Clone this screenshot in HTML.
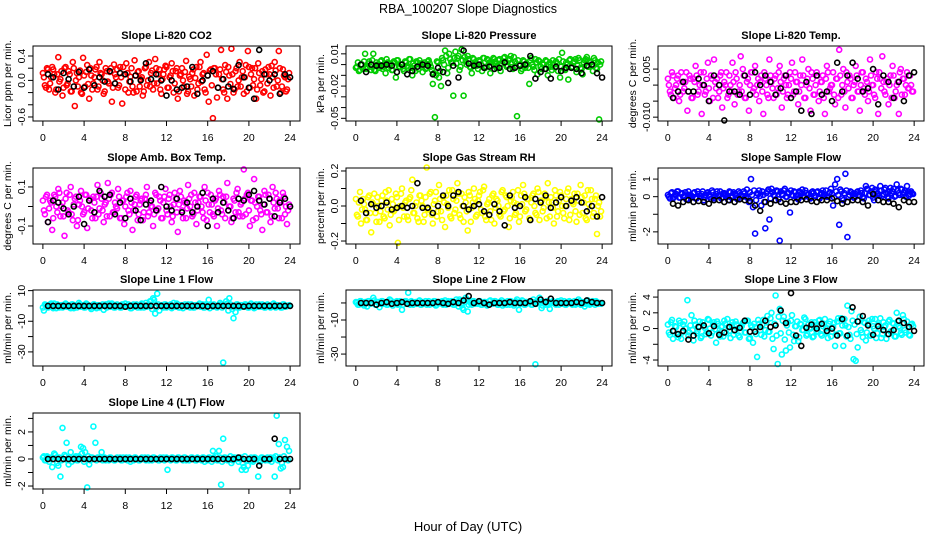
<!DOCTYPE html>
<html><head><meta charset="utf-8">
<style>
html,body{margin:0;padding:0;background:#fff;}
svg{display:block;font-family:"Liberation Sans",Arial,sans-serif;}
</style></head>
<body>
<svg id="chart" width="936" height="540" viewBox="0 0 936 540" xmlns="http://www.w3.org/2000/svg">
<text x="468" y="13" text-anchor="middle" font-size="12.5">RBA_100207  Slope Diagnostics</text>
<text x="468" y="531" text-anchor="middle" font-size="13">Hour of Day (UTC)</text>
</svg>
<script>
const HOURS=[0.1,0.3,0.5,0.7,0.9,1.1,1.3,1.5,1.7,1.9,2.1,2.3,2.5,2.7,2.9,3.1,3.3,3.5,3.7,3.9,4.1,4.3,4.5,4.7,4.9,5.1,5.3,5.5,5.7,5.9,6.1,6.3,6.5,6.7,6.9,7.1,7.3,7.5,7.7,7.9,8.1,8.3,8.5,8.7,8.9,9.1,9.3,9.5,9.7,9.9,10.1,10.3,10.5,10.7,10.9,11.1,11.3,11.5,11.7,11.9,12.1,12.3,12.5,12.7,12.9,13.1,13.3,13.5,13.7,13.9,14.1,14.3,14.5,14.7,14.9,15.1,15.3,15.5,15.7,15.9,16.1,16.3,16.5,16.7,16.9,17.1,17.3,17.5,17.7,17.9,18.1,18.3,18.5,18.7,18.9,19.1,19.3,19.5,19.7,19.9,20.1,20.3,20.5,20.7,20.9,21.1,21.3,21.5,21.7,21.9,22.1,22.3,22.5,22.7,22.9,23.1,23.3,23.5,23.7,23.9];
const HOURS2=[0.0,0.2,0.4,0.6,0.8,1.0,1.2,1.4,1.6,1.8,2.0,2.2,2.4,2.6,2.8,3.0,3.2,3.4,3.6,3.8,4.0,4.2,4.4,4.6,4.8,5.0,5.2,5.4,5.6,5.8,6.0,6.2,6.4,6.6,6.8,7.0,7.2,7.4,7.6,7.8,8.0,8.2,8.4,8.6,8.8,9.0,9.2,9.4,9.6,9.8,10.0,10.2,10.4,10.6,10.8,11.0,11.2,11.4,11.6,11.8,12.0,12.2,12.4,12.6,12.8,13.0,13.2,13.4,13.6,13.8,14.0,14.2,14.4,14.6,14.8,15.0,15.2,15.4,15.6,15.8,16.0,16.2,16.4,16.6,16.8,17.0,17.2,17.4,17.6,17.8,18.0,18.2,18.4,18.6,18.8,19.0,19.2,19.4,19.6,19.8,20.0,20.2,20.4,20.6,20.8,21.0,21.2,21.4,21.6,21.8,22.0,22.2,22.4,22.6,22.8,23.0,23.2,23.4,23.6,23.8];
const BLACK_HOURS=[0.5,1,1.5,2,2.5,3,3.5,4,4.5,5,5.5,6,6.5,7,7.5,8,8.5,9,9.5,10,10.5,11,11.5,12,12.5,13,13.5,14,14.5,15,15.5,16,16.5,17,17.5,18,18.5,19,19.5,20,20.5,21,21.5,22,22.5,23,23.5,24];
const X_TICKS=[0,4,8,12,16,20,24];

const CO2=[0.05,-0.12,0.18,-0.05,0.22,0.1,-0.15,0.38,0.02,-0.25,0.2,-0.08,0.15,-0.18,0.3,-0.42,0.12,0.05,-0.2,0.37,-0.1,0.25,-0.3,0.08,-0.05,0.18,-0.15,0.3,0.1,-0.22,0.2,-0.02,0.14,-0.35,0.26,0.05,-0.12,0.22,-0.38,0.1,0.28,-0.2,0.06,-0.1,0.33,-0.18,0.15,0.02,-0.25,0.2,-0.08,0.3,0.12,-0.15,0.35,-0.05,0.18,-0.22,0.1,0.24,-0.12,0.05,0.28,-0.2,0.15,-0.3,0.08,0.2,-0.1,0.32,-0.18,0.02,0.12,-0.25,0.22,-0.05,0.3,0.1,-0.15,0.42,-0.35,0.18,-0.62,0.2,-0.28,0.1,0.5,-0.15,0.25,-0.3,0.08,0.52,-0.2,0.15,-0.1,0.3,0.05,-0.22,0.25,0.48,-0.12,0.2,0.02,-0.3,0.28,-0.08,0.15,-0.18,0.1,0.22,-0.25,0.05,0.3,-0.1,0.48,-0.2,0.18,0.05,-0.15,0.12];
const CO2_B=[0.12,-0.08,0.2,-0.15,0.05,0.18,-0.2,0.1,-0.02,0.15,-0.12,0.22,-0.05,0.1,-0.18,0.2,0.0,-0.1,0.16,-0.22,0.08,0.14,-0.06,0.2,-0.15,0.05,0.22,-0.1,0.12,0.0,-0.18,0.15,-0.05,0.2,-0.12,0.1,0.18,-0.08,0.05,0.22,-0.15,0.12,-0.02,0.2,-0.2,0.08,0.14,-0.1,0.05,-0.18,0.22,0.0,-0.1,0.16,-0.05,0.2,0.1,-0.15,0.02,0.18,0.22,-0.12,0.08,0.15,-0.05,0.2,-0.18,0.1,0.0,0.14,-0.22,0.06,-0.1,0.18,0.04,-0.15,0.22,-0.02,0.12,-0.2,0.08,0.16,-0.08,0.2,0.1,-0.12,0.18,0.02,-0.2,0.14,0.22,-0.06,0.1,-0.15,0.2,0.0,-0.1,0.15,0.05,-0.18,0.22,0.1,-0.08,0.2,-0.15,0.12,0.02,-0.2,0.18,-0.05,0.1,0.24,-0.12,0.16,0.0,0.2,-0.1,0.08,-0.18,0.02];
const CO2_BLACK=[0.1,0.05,-0.15,0.12,0.02,-0.1,0.14,-0.12,0.18,-0.08,0.05,-0.02,0.15,-0.05,0.12,0.1,-0.02,0.08,0.0,0.28,0.02,0.1,0.0,-0.25,0.0,-0.15,-0.12,-0.1,0.22,-0.22,0.0,0.08,0.15,-0.12,0.02,-0.1,-0.14,0.25,0.05,-0.12,-0.3,0.5,0.1,0.0,0.1,-0.22,0.1,0.05];

const PRESSURE=[-0.002,-0.006,0.0,-0.004,0.01,-0.002,0.003,-0.005,0.01,-0.006,0.0,-0.003,0.004,-0.002,-0.008,0.002,-0.001,-0.005,0.003,-0.012,0.004,-0.002,0.0,-0.006,0.002,-0.003,0.005,-0.01,-0.001,0.003,-0.004,0.001,-0.007,0.002,-0.003,0.004,-0.002,-0.018,-0.049,0.003,-0.012,-0.02,0.004,0.013,-0.008,0.01,0.002,-0.029,0.012,0.006,-0.005,0.014,-0.029,0.003,0.008,-0.002,-0.008,0.005,0.0,-0.004,0.003,-0.006,0.006,-0.002,0.004,-0.008,0.002,0.005,-0.003,0.004,-0.006,0.003,0.007,-0.002,0.004,0.008,-0.004,0.003,-0.048,0.0,-0.006,0.004,-0.003,0.0,-0.018,0.006,-0.002,0.005,-0.009,0.003,-0.004,0.0,0.004,-0.01,0.002,-0.005,0.0,0.003,-0.006,-0.012,0.011,-0.004,0.002,-0.014,0.005,-0.002,0.003,-0.007,0.006,-0.003,-0.009,0.004,0.007,-0.002,0.002,-0.006,0.004,-0.004,-0.051,0.003];
const PRESSURE_B=[-0.003,0.002,-0.005,0.0,0.003,-0.004,0.001,-0.002,0.004,-0.005,0.002,-0.001,0.003,-0.004,0.0,0.005,-0.003,0.001,-0.005,0.002,0.004,-0.002,0.0,-0.004,0.003,-0.001,0.005,-0.003,0.001,-0.006,0.002,0.004,-0.002,0.0,-0.004,0.003,0.001,-0.005,-0.008,-0.01,0.002,-0.006,0.006,0.0,0.008,-0.003,0.005,0.002,0.006,0.001,0.008,-0.002,0.004,0.007,0.0,0.005,-0.003,0.006,0.002,-0.001,0.004,0.0,0.006,-0.003,0.005,0.002,-0.001,0.006,0.003,-0.002,0.005,0.001,0.006,0.003,-0.001,0.005,0.002,0.007,-0.002,0.004,0.0,-0.004,0.003,0.001,-0.003,0.004,0.0,-0.005,0.002,0.004,-0.002,0.001,-0.004,0.003,0.0,-0.002,0.004,-0.003,0.001,0.005,-0.002,0.003,-0.005,0.0,0.004,-0.003,0.002,0.005,-0.001,0.004,-0.004,0.002,0.005,-0.002,0.003,0.0,0.006,-0.003,0.002,0.0];
const PRESSURE_BLACK=[0.0,-0.007,0.0,-0.001,-0.001,0.0,-0.001,-0.007,0.0,-0.009,-0.006,-0.002,0.0,-0.001,-0.009,-0.003,-0.007,-0.017,-0.001,-0.012,0.013,0.001,-0.001,0.0,-0.003,-0.002,-0.004,-0.003,0.002,-0.004,-0.003,-0.001,0.0,0.008,-0.013,-0.007,-0.004,-0.013,-0.002,-0.006,-0.003,-0.003,-0.004,-0.008,-0.001,0.0,-0.008,-0.012];

const TEMP=[0.0,-0.003,0.003,-0.001,0.002,-0.005,0.004,-0.002,0.001,-0.008,0.003,-0.004,0.002,0.006,-0.003,0.0,-0.009,0.004,-0.002,0.007,-0.005,0.002,0.008,-0.001,-0.004,0.003,-0.007,0.001,0.004,-0.003,0.0,0.007,-0.006,0.002,-0.002,0.009,0.005,-0.004,0.001,-0.008,0.004,-0.002,0.006,0.0,-0.005,0.003,-0.009,0.002,-0.003,0.008,0.001,-0.004,0.003,-0.001,0.006,-0.007,0.002,0.0,-0.003,0.004,0.007,-0.002,0.001,-0.006,0.003,0.008,-0.004,0.0,0.005,-0.008,0.002,-0.003,0.004,-0.005,0.001,0.003,-0.009,0.006,-0.002,0.0,0.004,-0.006,0.002,0.011,-0.003,0.005,-0.007,0.001,0.003,-0.004,0.0,0.006,-0.002,-0.008,0.004,-0.001,0.002,-0.005,0.008,0.0,-0.003,0.004,-0.009,0.002,0.009,-0.002,0.001,-0.006,0.003,0.006,-0.004,0.0,-0.009,0.005,0.002,-0.003,0.004,-0.001,0.0,-0.002];
const TEMP_B=[0.002,-0.002,0.004,-0.004,0.0,0.003,-0.003,0.001,-0.001,0.004,-0.002,0.002,-0.004,0.001,0.003,-0.002,0.004,0.0,-0.003,0.002,-0.001,0.003,-0.004,0.001,0.002,-0.002,0.004,-0.001,0.0,-0.004,0.003,-0.002,0.001,0.004,-0.003,0.0,-0.002,0.003,-0.004,0.002,0.0,0.004,-0.001,-0.003,0.002,0.001,-0.002,0.004,0.0,-0.004,0.003,-0.001,0.002,-0.003,0.004,0.001,-0.002,0.003,-0.004,0.0,0.002,-0.003,0.004,0.001,-0.002,0.0,0.003,-0.004,0.002,-0.001,0.004,-0.003,0.0,0.003,-0.002,0.001,-0.004,0.002,0.004,-0.001,0.0,-0.003,0.002,-0.004,0.003,0.0,-0.002,0.004,-0.001,0.002,-0.004,0.001,0.003,-0.002,0.0,0.004,-0.003,0.001,-0.002,0.003,0.0,-0.004,0.002,0.004,-0.001,0.001,-0.003,0.002,0.0,-0.004,0.003,-0.002,0.001,0.004,-0.003,0.002,0.0,-0.001,0.003,-0.002];
const TEMP_BLACK=[-0.004,-0.002,0.001,-0.002,-0.002,0.002,0.0,-0.005,0.003,0.0,-0.011,-0.002,-0.002,-0.003,0.003,-0.003,0.004,0.0,0.003,0.001,-0.003,-0.001,0.003,-0.004,-0.002,-0.008,0.001,-0.009,0.003,-0.003,-0.002,-0.005,0.007,-0.002,0.003,0.007,0.002,-0.002,-0.001,0.005,-0.006,0.003,0.001,-0.004,0.001,-0.005,0.003,0.004];

const AMB=[-0.02,0.05,-0.08,0.03,-0.12,0.06,0.0,0.09,-0.05,0.02,-0.15,0.07,-0.03,0.1,-0.07,0.04,-0.1,0.01,0.08,-0.04,0.06,-0.11,0.03,-0.02,0.05,-0.06,0.11,-0.01,0.04,-0.08,0.02,0.12,-0.05,0.07,-0.03,0.0,0.09,-0.06,0.03,-0.09,0.05,-0.02,0.08,-0.12,0.01,0.06,-0.04,0.03,-0.07,0.04,0.1,-0.03,0.0,-0.1,0.07,-0.02,0.05,-0.06,0.02,0.09,-0.04,0.06,-0.08,0.01,0.04,-0.13,0.08,-0.02,0.03,-0.06,0.11,0.0,-0.05,0.07,-0.09,0.02,0.05,-0.03,0.1,-0.07,0.01,0.06,-0.04,0.03,-0.1,0.08,-0.02,0.05,-0.06,0.12,0.0,-0.08,0.04,-0.03,0.09,-0.05,0.02,0.19,-0.04,0.07,-0.1,0.03,0.14,-0.06,0.05,-0.02,-0.12,0.08,-0.03,0.06,-0.08,0.1,-0.01,0.04,-0.06,0.02,0.07,-0.04,-0.09,0.01];
const AMB_B=[0.03,-0.04,0.06,-0.01,0.02,-0.06,0.05,-0.03,0.07,0.0,-0.05,0.04,-0.02,0.06,-0.04,0.01,0.05,-0.07,0.03,0.0,-0.03,0.06,-0.01,0.04,-0.06,0.02,0.05,-0.04,0.07,-0.02,0.01,-0.05,0.04,0.06,-0.03,0.02,-0.01,0.05,-0.06,0.03,0.0,0.07,-0.04,0.02,-0.02,0.05,-0.07,0.01,0.04,-0.03,0.06,-0.05,0.02,0.0,-0.04,0.06,-0.01,0.03,-0.06,0.05,-0.02,0.04,0.0,-0.05,0.07,-0.03,0.01,0.05,-0.06,0.02,-0.01,0.04,0.06,-0.04,0.02,-0.02,0.05,0.0,-0.06,0.03,0.07,-0.03,0.01,-0.05,0.04,-0.01,0.06,-0.04,0.02,0.05,-0.02,0.0,-0.06,0.03,0.07,-0.03,0.01,-0.05,0.04,0.06,-0.02,0.03,-0.07,0.02,0.0,0.05,-0.04,0.01,0.06,-0.03,0.04,-0.05,0.02,0.07,-0.01,0.03,-0.06,0.05,0.0,-0.02];
const AMB_BLACK=[-0.08,0.03,0.02,-0.01,-0.04,0.0,0.05,-0.09,0.03,-0.03,0.08,0.05,0.06,-0.04,0.02,-0.06,0.04,-0.02,-0.07,0.01,0.03,-0.02,0.1,0.0,-0.02,0.04,-0.03,0.02,-0.03,0.0,0.07,-0.1,0.04,-0.03,0.02,-0.02,-0.06,0.04,0.03,0.06,0.08,0.03,0.01,0.04,-0.05,0.02,0.04,0.0];

const RH=[-0.05,0.02,-0.1,0.04,-0.02,-0.08,0.06,-0.15,0.01,-0.04,0.05,-0.09,0.03,-0.06,0.08,-0.02,-0.11,0.04,-0.03,0.07,-0.21,0.0,0.1,-0.06,0.03,-0.08,0.05,0.15,-0.04,0.02,-0.09,0.06,0.0,-0.05,0.22,-0.02,0.08,-0.1,0.03,-0.06,0.12,-0.03,0.05,-0.12,0.01,0.09,-0.07,0.04,-0.02,0.13,-0.05,0.07,-0.09,0.02,-0.14,0.06,-0.01,0.1,-0.06,0.03,0.08,-0.04,0.11,-0.08,0.02,-0.03,0.06,-0.1,0.04,0.0,-0.06,0.09,-0.02,0.05,-0.12,0.03,0.08,-0.05,0.01,-0.09,0.06,0.12,-0.03,0.04,-0.07,0.02,0.07,-0.04,0.1,-0.08,0.03,-0.01,0.05,0.13,-0.06,0.02,-0.1,0.06,-0.03,0.08,0.0,-0.07,0.04,0.1,-0.05,0.02,0.07,-0.09,0.03,0.12,-0.04,0.06,-0.08,0.01,0.09,-0.06,0.04,-0.16,0.02,-0.03];
const RH_B=[0.04,-0.06,0.08,-0.02,0.01,-0.08,0.05,-0.04,0.02,0.07,-0.09,0.0,-0.03,0.06,-0.07,0.03,0.09,-0.05,0.01,-0.02,0.05,-0.08,0.07,-0.01,0.02,-0.06,0.04,0.09,-0.04,0.0,-0.07,0.06,0.03,-0.09,0.05,-0.02,0.07,-0.05,0.01,0.08,-0.03,0.04,-0.08,0.02,0.06,-0.01,-0.06,0.09,-0.04,0.03,0.07,-0.07,0.0,0.05,-0.03,0.08,-0.09,0.02,0.04,-0.05,0.06,-0.02,0.09,-0.06,0.01,0.04,-0.08,0.07,-0.01,0.03,-0.05,0.08,-0.03,0.06,0.0,-0.07,0.05,0.02,-0.04,0.09,-0.06,0.01,0.07,-0.02,0.04,-0.08,0.06,0.0,-0.05,0.08,0.03,-0.03,0.07,-0.07,0.02,0.05,-0.01,0.09,-0.06,0.03,0.06,-0.04,0.0,0.08,-0.08,0.04,0.01,-0.03,0.07,-0.05,0.05,0.02,-0.07,0.09,-0.02,0.04,-0.04,0.06,0.0,-0.06];
const RH_BLACK=[0.03,-0.04,0.01,-0.01,0.0,0.02,-0.02,-0.01,0.0,-0.01,0.0,0.13,-0.01,-0.01,-0.04,0.0,0.06,0.0,0.06,0.08,0.0,-0.02,0.0,0.01,-0.03,-0.05,0.01,-0.03,-0.11,0.06,-0.01,0.0,0.05,-0.08,0.04,0.02,0.06,-0.01,0.02,0.05,0.0,0.03,0.05,0.02,-0.03,0.0,-0.06,0.05];

const SAMPLE=[0.0,0.2,-0.1,0.1,0.3,-0.05,0.15,0.0,0.25,-0.15,0.1,0.05,0.2,-0.1,0.3,0.05,0.15,-0.2,0.1,0.25,0.0,0.35,-0.1,0.15,0.05,0.3,-0.05,0.2,0.1,-0.2,0.25,0.05,0.15,-0.1,0.3,0.1,0.0,0.2,0.4,-0.3,1.0,-0.6,-2.1,0.2,0.35,-0.5,0.1,-1.8,0.3,-1.3,0.45,0.1,-0.2,0.3,-2.5,0.15,0.35,0.0,0.2,-0.9,0.1,0.3,0.05,-0.15,0.25,0.4,0.0,0.2,0.1,-0.1,0.3,0.05,0.25,-0.05,0.15,0.35,0.1,0.0,0.2,0.45,-0.5,0.7,1.0,-1.6,0.3,-0.2,1.3,-2.3,0.1,0.25,-0.05,0.15,0.3,0.05,0.2,-0.1,0.6,0.4,0.1,0.5,-0.2,0.3,0.15,0.6,0.05,0.4,0.2,-0.1,0.5,0.3,0.0,0.7,0.2,0.45,0.1,0.35,0.6,0.05,0.3,0.15];
const SAMPLE_B=[0.1,-0.1,0.25,0.0,0.15,0.3,-0.05,0.2,0.05,-0.15,0.3,0.1,0.0,0.25,-0.1,0.15,0.05,0.3,-0.05,0.2,0.1,-0.12,0.25,0.0,0.3,0.05,-0.1,0.2,0.15,0.0,0.3,-0.05,0.25,0.1,-0.15,0.2,0.05,0.3,0.0,-0.1,0.25,0.1,0.35,-0.2,0.15,0.05,0.3,-0.3,0.2,0.4,-0.1,0.25,0.05,0.35,-0.15,0.3,0.1,0.45,0.0,0.2,0.35,0.05,0.25,-0.1,0.3,0.15,0.0,0.35,0.1,-0.05,0.25,0.2,0.05,0.3,-0.1,0.2,0.1,0.35,0.0,0.25,0.15,-0.05,0.3,0.1,0.4,-0.1,0.2,0.35,0.0,0.3,0.15,-0.05,0.25,0.1,0.35,0.0,0.2,0.45,0.1,0.3,-0.05,0.4,0.2,0.05,0.35,0.15,0.5,0.0,0.3,0.2,0.45,0.05,0.35,0.1,0.4,0.25,0.0,0.3,0.15,0.2];
const SAMPLE_BLACK=[-0.4,-0.5,-0.3,-0.2,-0.3,-0.25,-0.3,-0.4,-0.2,-0.2,-0.3,-0.2,-0.3,-0.15,-0.2,-0.25,-0.5,-0.8,-0.3,-0.4,-0.2,-0.3,-0.4,-0.3,-0.3,-0.2,-0.15,-0.25,-0.3,-0.2,-0.2,-0.1,-0.25,-0.4,-0.3,-0.2,-0.2,-0.3,-0.5,0.15,-0.2,-0.3,-0.3,-0.4,-0.6,-0.2,-0.3,-0.3];

const LINE1=[-3,0.5,-1,1,-0.5,1.5,-1.5,0.5,0,-1,1,-0.5,0.5,-1.5,1,0,-1,2,-0.5,0.5,-1,1,0,-2,1,-0.5,0.5,-1,0,-2.5,1,-0.5,0.5,1.5,-1,0,0.5,-1,1,-0.5,0,1,-1.5,0.5,-0.5,1,0,-1,1,0,-0.5,1,3,5,-5,8,-3,0.5,-1,1,0.5,0,-1.5,2,-0.5,1,-1,0.5,0,-0.5,1,-1,0.5,-1,0,0.5,-0.5,1,-1,0.5,4,1,-0.5,0,-1,0.5,1,-37,0.5,1.5,5,-0.5,-8,-4,1,-1,0.5,-0.5,1,-1,0,0.5,-1.5,1,-0.5,0,1,-1,0.5,0,-1,1,-0.5,0.5,0,-1,1,-0.5,0,0.5];
const LINE1_B=[-1,1,-0.5,0.5,1.5,-1.5,0,1,-1,0.5,-0.5,1.5,0,-1,1,-1.5,0.5,0,1,-0.5,-1,1.5,0.5,-1,0,1,-1.5,0.5,-0.5,1,0,-1,1.5,-0.5,0.5,-1,1,0,-1,0.5,1.5,-0.5,0,-1.5,1,0.5,-1,0,1.5,-1,2,0.5,3,-2,4,-1,1,0,-0.5,1,-1,0.5,1,-0.5,0,1.5,-1,0.5,-1.5,1,0,-0.5,1,-1,0.5,0,1.5,-0.5,-1,1,0,-1.5,0.5,1,-0.5,0,2,-1,0.5,3,-3,1,-2,0,1,-1,0.5,-0.5,1,0,-1,1.5,0.5,-1,0,1,-0.5,0.5,-1,1,0,-0.5,1.5,-1,0.5,0,-1,1,-0.5,0];
const LINE1_BLACK=[0,0,0,0,0,0,0,0,0,0,0,0,0,0,0,-0.5,0,0,0,0,0,0,0,0,0,0,0,0,0,0,0,-0.3,0,0,0,0,0,0,-0.4,0,0,0,0,0,0,0,0,0];

const LINE2=[0,-1,1,-0.5,0.5,-2,1,0,3,-1,0.5,-2.5,1,-0.5,0,-1,2,-0.5,0.5,0,-1,1,-4,0.5,1,6,-1,0.5,0,-0.5,1,-1,0.5,0,-1,1,0,-0.5,1,-1,0.5,0,-1,1.5,0,-0.5,1,-1,0.5,0,2,-1,-4,3,-5,0.5,-1,1,0,-0.5,1,-1,0.5,0,-1,1.5,-0.5,1,0,-1,0.5,-1.5,0.5,-1,0,1,-0.5,0.5,2,-4,0,1,-1,0.5,0,-1,2,-36,1,3,-3,0.5,-1,1,-3.5,0,0.5,-1,1,0,-0.5,1,-1,0.5,0,-1,1,-0.5,2,-1,0.5,-2,1,0,-0.5,1,-1,0.5,0,-0.5];
const LINE2_B=[0.5,-1,1,0,-1.5,0.5,1,-0.5,0,1.5,-1,0.5,-0.5,1,0,-1,0.5,1.5,-1.5,0,1,-0.5,0.5,-1,1,0,-0.5,1,-1,0.5,0,1.5,-1,-0.5,1,0,-1,0.5,1,-1.5,0,0.5,1,-0.5,-1,1,0.5,0,-1,2,-2,1,-3,0.5,2,-1,0,1,-0.5,0.5,1,-1,0,0.5,-1.5,1,-0.5,0,1,-1,0.5,1.5,-0.5,0,1,-1,0.5,-1.5,1,0,-0.5,1.5,-1,0.5,0,1,-1,0.5,-0.5,1,0,-1.5,0.5,1,-1,0,1,-0.5,0.5,-1,1.5,0,-1,0.5,1,-0.5,0,-1,0.5,1,-1,0,-0.5,1.5,-1,0.5,0,1,-0.5,0];
const LINE2_BLACK=[0,0,0,-1,0,0.5,-0.5,0,0.5,-0.5,0,0,0,0,0,0.5,0,-0.5,0.5,0,1.5,4,0,1,0,-1,0,0,0,0.5,0,0,0,1,-0.5,2,0.5,2.5,0,0,0,0,0.5,0,1.5,0.5,0,0];

const LINE3=[-0.5,0.8,-1.3,0.3,-0.8,1,-1.3,0.5,0,3.6,-0.5,1.7,-1.5,0.5,-0.3,0.9,-1,0.4,-0.7,1.2,0,-0.5,0.8,-1.8,0.6,-1,0.3,1,-0.6,0.2,-1.2,0.8,-0.3,0.5,-0.9,0.1,0.7,-0.5,1,-1.3,0.4,-1.8,0.2,-3.6,0.6,-0.8,1.1,-0.2,1.6,-0.4,2,-2.6,4.2,-4.5,2.5,-3.3,1.5,-2.8,0.8,-2.4,1.7,-1.6,0.3,-1.6,0.6,-0.2,1.4,-0.9,0.5,0,-1.1,0.8,-0.4,1,-0.7,0.3,1.2,-0.5,0.6,-1,0.2,-2.2,0.9,-0.6,1.3,-2.2,0.4,2.9,-0.8,2.2,-3.9,-4.1,-2.4,1.5,-0.5,0.8,-1.5,0.6,-0.9,1.2,0,-1.2,0.5,1.3,-0.7,0.2,-1.3,0.9,-0.4,0.7,-1,2,0.3,-0.6,1.7,-0.2,0.9,-0.8,0.5,0.3];
const LINE3_B=[0.5,-0.8,1.1,-0.3,0.2,-1.1,0.7,-0.5,0.9,0.0,-0.9,0.4,-0.2,1.0,-0.6,0.3,-1.2,0.8,0.1,-0.4,1.1,-0.9,0.5,-0.1,0.9,-0.6,0.2,-1.0,0.6,1.2,-0.3,0.4,-0.8,0.9,0.0,-1.1,0.3,0.8,-0.5,1.0,-1.2,0.2,0.6,-0.7,1.1,-0.2,0.5,-1.0,0.8,-0.4,1.3,-1.3,0.6,-0.9,1.5,-0.6,1.0,-1.4,0.4,-0.5,1.0,-0.8,0.3,0.9,-1.1,0.5,-0.2,1.2,-0.7,0.1,0.8,-1.0,0.4,-0.3,1.1,-0.9,0.6,0.0,-1.2,0.9,-0.4,0.7,-0.8,1.3,-0.6,0.4,1.2,-1.0,0.2,-1.3,1.0,0.5,-0.7,0.9,-0.2,-1.1,0.7,-0.5,1.0,-0.9,0.3,1.2,-0.6,0.0,-1.2,0.8,0.4,-0.7,1.1,-0.3,0.6,-1.0,0.9,0.1,-0.8,1.2,-0.5,0.3,-0.9,0.6];
const LINE3_BLACK=[-0.3,-0.7,-0.3,-1.4,-0.9,0.2,0.4,-0.6,0.3,-0.8,-0.5,0.2,-0.2,0.1,1,-0.4,-0.4,0.2,1,0.2,0.4,2.3,0.7,4.5,-0.9,-2.2,0.1,0.5,0,0.6,-0.3,0,-0.9,1.2,-0.9,2.7,0.9,1.6,0.4,-0.8,0.3,-0.2,-0.7,-0.2,1,0.7,0.2,-0.3];

const LINE4=[0.2,-0.1,0.1,0,-0.6,0.4,0.1,-0.5,-1.3,2.3,0.3,1.2,-0.4,0.5,0,0.1,-0.1,0.2,0.9,0.8,0.5,-2.1,-0.4,0.1,2.4,1.2,0.1,0,0.5,0.1,-0.1,0,0.1,0,-0.1,0,0,0.1,-0.1,0,0.1,0,-0.2,0,0.1,0,-0.1,0,0,0.1,0,-0.1,0,0.1,0,0,-0.1,0,0.1,0,-0.8,0,0.1,0,-0.1,0.1,0,0,0.1,-0.1,0,0,0.1,0,-0.1,0,0,0.1,-0.2,0,0.1,0,0.6,0,-0.1,0.6,-1.9,1.5,0.1,-0.1,0,-0.3,0.1,0,0.1,0,-0.8,-0.6,-0.8,-0.5,0,-0.1,0.1,0,-1.3,-0.2,0.1,0,0,-0.1,0.1,0,-1.3,3.2,1.1,-0.7,-0.6,1.4,0.9,0.6];
const LINE4_B=[0.1,-0.1,0.2,-0.2,0.1,0,0.3,-0.3,0.1,-0.1,0,0.2,-0.1,0.1,-0.2,0,0.2,-0.1,0.1,0.4,-0.2,0,0.2,-0.1,0.1,0,-0.1,0.1,0,-0.1,0.1,0,-0.1,0.1,0,-0.1,0.1,0,-0.1,0.1,0,-0.1,0.1,0,-0.1,0.1,0,-0.1,0.1,0,-0.1,0.1,0,-0.1,0.1,0,-0.1,0.1,0,-0.1,0.1,0,-0.1,0.1,0,-0.1,0.1,0,-0.1,0.1,0,-0.1,0.1,0,-0.1,0.1,0,-0.1,0.1,0,-0.1,0.1,-0.2,0.1,0.2,-0.1,0.1,-0.2,0.1,0,-0.1,0.2,-0.1,0.1,0,-0.2,0.1,-0.3,0.2,-0.1,0,0.1,-0.2,0.1,0,-0.1,0.1,0,-0.1,0.1,0,-0.2,0.1,0.2,-0.1,0.1,-0.3,0.2,0,-0.1];
const LINE4_BLACK=[0,0,0,0,0,0,0,0,0,0,0,0,0,0,0,0,0,0,0,0,0,0,0,0,0,0,0,0,0,0,0,0,0,0,0,0,0,0.1,0,0,0,-0.5,0,0,1.5,0,0,0];

const NS="http://www.w3.org/2000/svg";
const svg=document.getElementById('chart');
const COLS=[[33,300],[346,612],[658,924]];
const ROWS=[[46,121],[168,244],[290,366],[413,489]];
const XDOM=[-0.96,24.96];
const panels=[
 {id:'co2',title:'Slope Li-820 CO2',ylab:'Licor ppm per min.',c:0,r:0,ylim:[-0.666,0.564],ticks:[-0.6,-0.4,-0.2,0,0.2,0.4],labs:{'-0.6':'-0.6','0':'0.0','0.4':'0.4'},color:'#ff0000',data:CO2,data2:CO2_B,black:CO2_BLACK},
 {id:'pressure',title:'Slope Li-820 Pressure',ylab:'kPa per min.',c:1,r:0,ylim:[-0.0525,0.0173],ticks:[-0.05,-0.04,-0.03,-0.02,-0.01,0,0.01],labs:{'-0.05':'-0.05','-0.02':'-0.02','0.01':'0.01'},color:'#00cc00',data:PRESSURE,data2:PRESSURE_B,black:PRESSURE_BLACK},
 {id:'temp',title:'Slope Li-820 Temp.',ylab:'degrees C per min.',c:2,r:0,ylim:[-0.0112,0.0122],ticks:[-0.01,-0.005,0,0.005],labs:{'-0.01':'-0.010','0.005':'0.005'},color:'#ff00ff',data:TEMP,data2:TEMP_B,black:TEMP_BLACK},
 {id:'amb-box',title:'Slope Amb. Box Temp.',ylab:'degrees C per min.',c:0,r:1,ylim:[-0.192,0.197],ticks:[-0.1,0,0.1],labs:{'-0.1':'-0.1','0.1':'0.1'},color:'#ff00ff',data:AMB,data2:AMB_B,black:AMB_BLACK},
 {id:'rh',title:'Slope Gas Stream RH',ylab:'percent per min.',c:1,r:1,ylim:[-0.217,0.217],ticks:[-0.2,-0.1,0,0.1,0.2],labs:{'-0.2':'-0.2','0':'0.0','0.2':'0.2'},color:'#ffff00',data:RH,data2:RH_B,black:RH_BLACK},
 {id:'sample-flow',title:'Slope Sample Flow',ylab:'ml/min per min.',c:2,r:1,ylim:[-2.69,1.63],ticks:[-2,-1,0,1],labs:{'-2':'-2','0':'0','1':'1'},color:'#0000ff',data:SAMPLE,data2:SAMPLE_B,black:SAMPLE_BLACK},
 {id:'line1',title:'Slope Line 1 Flow',ylab:'ml/min per min.',c:0,r:2,ylim:[-39.2,10.4],ticks:[-30,-20,-10,0,10],labs:{'-30':'-30','-10':'-10','10':'10'},color:'#00ffff',data:LINE1,data2:LINE1_B,black:LINE1_BLACK},
 {id:'line2',title:'Slope Line 2 Flow',ylab:'ml/min per min.',c:1,r:2,ylim:[-37,7.6],ticks:[-30,-20,-10,0],labs:{'-30':'-30','-10':'-10'},color:'#00ffff',data:LINE2,data2:LINE2_B,black:LINE2_BLACK},
 {id:'line3',title:'Slope Line 3 Flow',ylab:'ml/min per min.',c:2,r:2,ylim:[-4.76,4.9],ticks:[-4,-2,0,2,4],labs:{'-4':'-4','0':'0','2':'2','4':'4'},color:'#00ffff',data:LINE3,data2:LINE3_B,black:LINE3_BLACK},
 {id:'line4',title:'Slope Line 4 (LT) Flow',ylab:'ml/min per min.',c:0,r:3,ylim:[-2.22,3.4],ticks:[-2,-1,0,1,2,3],labs:{'-2':'-2','0':'0','2':'2'},color:'#00ffff',data:LINE4,data2:LINE4_B,black:LINE4_BLACK}
];
function mk(tag,attrs,parent){const e=document.createElementNS(NS,tag);for(const k in attrs)e.setAttribute(k,attrs[k]);(parent||svg).appendChild(e);return e;}
panels.forEach(p=>{
  const [L,R]=COLS[p.c],[T,B]=ROWS[p.r];
  const sx=v=>L+(v-XDOM[0])/(XDOM[1]-XDOM[0])*(R-L);
  const sy=v=>B-(v-p.ylim[0])/(p.ylim[1]-p.ylim[0])*(B-T);
  const g=mk('g',{});
  
  
  const t=mk('text',{x:(L+R)/2,y:T-7,'text-anchor':'middle','font-size':'11','font-weight':'bold'},g);
  
  
  t.textContent=p.title;
  const pts=mk('g',{fill:'none','stroke-width':'1.6'},g);
  
  
  p.data2.forEach((v,i)=>{const c=mk('circle',{cx:sx(HOURS2[i]).toFixed(1),cy:sy(v).toFixed(1),r:2.5,stroke:p.color},pts);
    
    });
  p.data.forEach((v,i)=>{const c=mk('circle',{cx:sx(HOURS[i]).toFixed(1),cy:sy(v).toFixed(1),r:2.5,stroke:p.color},pts);
    
    });
  p.black.forEach((v,i)=>{const c=mk('circle',{cx:sx(BLACK_HOURS[i]).toFixed(1),cy:sy(v).toFixed(1),r:2.5,stroke:'#000'},pts);
    
    });
  const box=mk('rect',{x:L,y:T,width:R-L,height:B-T,fill:'none',stroke:'#000','stroke-width':'1'},g);
  
  
  const xa=mk('g',{},g);
  
  
  mk('line',{x1:sx(X_TICKS[0]),x2:sx(X_TICKS[X_TICKS.length-1]),y1:B,y2:B,stroke:'#000'},xa);
  X_TICKS.forEach(v=>{mk('line',{x1:sx(v),x2:sx(v),y1:B,y2:B+5,stroke:'#000'},xa);
    const tl=mk('text',{x:sx(v),y:B+20,'text-anchor':'middle','font-size':'10.5'},xa);
    
    
    tl.textContent=v;});
  const ya=mk('g',{},g);
  
  
  mk('line',{x1:L,x2:L,y1:sy(p.ticks[0]),y2:sy(p.ticks[p.ticks.length-1]),stroke:'#000'},ya);
  p.ticks.forEach(v=>{const y=sy(v);mk('line',{x1:L-5,x2:L,y1:y,y2:y,stroke:'#000'},ya);
    const lab=p.labs[String(v)];
    if(lab!==undefined){const tl=mk('text',{x:L-8,y:y,'text-anchor':'middle','font-size':'10.5',transform:`rotate(-90 ${L-8} ${y})`},ya);
      
      
      tl.textContent=lab;}});
  const yt=mk('text',{x:L-22,y:(T+B)/2,'text-anchor':'middle','font-size':'10.5',transform:`rotate(-90 ${L-22} ${(T+B)/2})`},g);
  
  
  yt.textContent=p.ylab;
});
</script>
</body></html>
